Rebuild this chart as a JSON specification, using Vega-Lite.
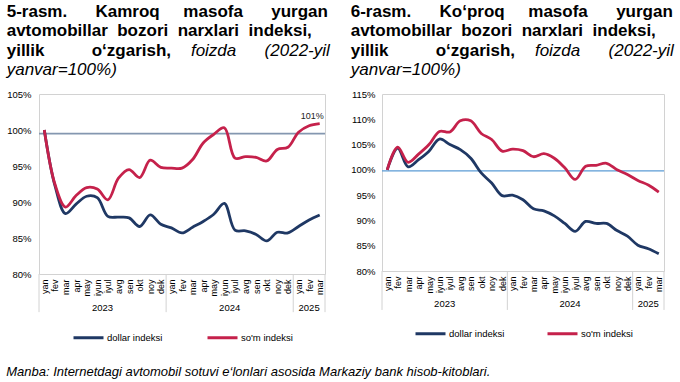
{
  "$schema": "https://vega.github.io/schema/vega-lite/v6.json",
  "padding": {"left": 6, "top": 2, "right": 4, "bottom": 4},
  "config": {
    "font": "Liberation Sans",
    "view": {"stroke": "#d2d2d2", "strokeWidth": 1},
    "axis": {"labelFont": "Liberation Sans", "labelColor": "#000", "grid": false, "ticks": false, "domain": false, "labelOverlap": false, "labelBound": false, "labelFlush": false},
    "axisX": {"labelAngle": 270, "labelFontSize": 9, "labelPadding": 5},
    "axisY": {"labelFontSize": 9.5},
    "legend": {"layout": {"bottom": {"anchor": "middle"}}}
  },
  "datasets": {
    "l": [
      {"i":0,"s":"dollar indeksi","v":100},{"i":1,"s":"dollar indeksi","v":92.3},{"i":2,"s":"dollar indeksi","v":88.4},{"i":3,"s":"dollar indeksi","v":89.7},{"i":4,"s":"dollar indeksi","v":90.8},{"i":5,"s":"dollar indeksi","v":90.6},{"i":6,"s":"dollar indeksi","v":88.0},{"i":7,"s":"dollar indeksi","v":87.9},{"i":8,"s":"dollar indeksi","v":87.8},{"i":9,"s":"dollar indeksi","v":86.6},{"i":10,"s":"dollar indeksi","v":88.2},{"i":11,"s":"dollar indeksi","v":86.9},{"i":12,"s":"dollar indeksi","v":86.4},{"i":13,"s":"dollar indeksi","v":85.7},{"i":14,"s":"dollar indeksi","v":86.5},{"i":15,"s":"dollar indeksi","v":87.3},{"i":16,"s":"dollar indeksi","v":88.3},{"i":17,"s":"dollar indeksi","v":89.8},{"i":18,"s":"dollar indeksi","v":86.1},{"i":19,"s":"dollar indeksi","v":86.0},{"i":20,"s":"dollar indeksi","v":85.5},{"i":21,"s":"dollar indeksi","v":84.6},{"i":22,"s":"dollar indeksi","v":85.8},{"i":23,"s":"dollar indeksi","v":85.7},{"i":24,"s":"dollar indeksi","v":86.6},{"i":25,"s":"dollar indeksi","v":87.5},{"i":26,"s":"dollar indeksi","v":88.2},
      {"i":0,"s":"so'm indeksi","v":100},{"i":1,"s":"so'm indeksi","v":92.5},{"i":2,"s":"so'm indeksi","v":89.3},{"i":3,"s":"so'm indeksi","v":90.9},{"i":4,"s":"so'm indeksi","v":92.0},{"i":5,"s":"so'm indeksi","v":91.8},{"i":6,"s":"so'm indeksi","v":90.3},{"i":7,"s":"so'm indeksi","v":93.3},{"i":8,"s":"so'm indeksi","v":94.5},{"i":9,"s":"so'm indeksi","v":93.4},{"i":10,"s":"so'm indeksi","v":95.8},{"i":11,"s":"so'm indeksi","v":94.8},{"i":12,"s":"so'm indeksi","v":94.7},{"i":13,"s":"so'm indeksi","v":94.7},{"i":14,"s":"so'm indeksi","v":95.9},{"i":15,"s":"so'm indeksi","v":98.2},{"i":16,"s":"so'm indeksi","v":99.4},{"i":17,"s":"so'm indeksi","v":100.3},{"i":18,"s":"so'm indeksi","v":96.1},{"i":19,"s":"so'm indeksi","v":96.3},{"i":20,"s":"so'm indeksi","v":96.2},{"i":21,"s":"so'm indeksi","v":95.7},{"i":22,"s":"so'm indeksi","v":97.3},{"i":23,"s":"so'm indeksi","v":97.6},{"i":24,"s":"so'm indeksi","v":99.7},{"i":25,"s":"so'm indeksi","v":100.6},{"i":26,"s":"so'm indeksi","v":100.9}
    ],
    "r": [
      {"i":0,"s":"dollar indeksi","v":100},{"i":1,"s":"dollar indeksi","v":104.3},{"i":2,"s":"dollar indeksi","v":100.6},{"i":3,"s":"dollar indeksi","v":102.0},{"i":4,"s":"dollar indeksi","v":103.7},{"i":5,"s":"dollar indeksi","v":106.1},{"i":6,"s":"dollar indeksi","v":105.0},{"i":7,"s":"dollar indeksi","v":104.0},{"i":8,"s":"dollar indeksi","v":102.3},{"i":9,"s":"dollar indeksi","v":99.4},{"i":10,"s":"dollar indeksi","v":97.4},{"i":11,"s":"dollar indeksi","v":94.9},{"i":12,"s":"dollar indeksi","v":95.0},{"i":13,"s":"dollar indeksi","v":94.1},{"i":14,"s":"dollar indeksi","v":92.3},{"i":15,"s":"dollar indeksi","v":91.9},{"i":16,"s":"dollar indeksi","v":90.9},{"i":17,"s":"dollar indeksi","v":89.4},{"i":18,"s":"dollar indeksi","v":87.85},{"i":19,"s":"dollar indeksi","v":89.8},{"i":20,"s":"dollar indeksi","v":89.4},{"i":21,"s":"dollar indeksi","v":89.4},{"i":22,"s":"dollar indeksi","v":88.0},{"i":23,"s":"dollar indeksi","v":86.9},{"i":24,"s":"dollar indeksi","v":85.1},{"i":25,"s":"dollar indeksi","v":84.4},{"i":26,"s":"dollar indeksi","v":83.4},
      {"i":0,"s":"so'm indeksi","v":100},{"i":1,"s":"so'm indeksi","v":104.5},{"i":2,"s":"so'm indeksi","v":101.5},{"i":3,"s":"so'm indeksi","v":103.1},{"i":4,"s":"so'm indeksi","v":105.0},{"i":5,"s":"so'm indeksi","v":107.6},{"i":6,"s":"so'm indeksi","v":107.5},{"i":7,"s":"so'm indeksi","v":109.7},{"i":8,"s":"so'm indeksi","v":109.7},{"i":9,"s":"so'm indeksi","v":107.2},{"i":10,"s":"so'm indeksi","v":106.0},{"i":11,"s":"so'm indeksi","v":103.7},{"i":12,"s":"so'm indeksi","v":104.1},{"i":13,"s":"so'm indeksi","v":103.8},{"i":14,"s":"so'm indeksi","v":102.6},{"i":15,"s":"so'm indeksi","v":103.2},{"i":16,"s":"so'm indeksi","v":102.3},{"i":17,"s":"so'm indeksi","v":100.4},{"i":18,"s":"so'm indeksi","v":98.1},{"i":19,"s":"so'm indeksi","v":100.7},{"i":20,"s":"so'm indeksi","v":100.9},{"i":21,"s":"so'm indeksi","v":101.3},{"i":22,"s":"so'm indeksi","v":100.0},{"i":23,"s":"so'm indeksi","v":99.1},{"i":24,"s":"so'm indeksi","v":97.9},{"i":25,"s":"so'm indeksi","v":97.0},{"i":26,"s":"so'm indeksi","v":95.6}
    ],
    "years": [{"x":5.5,"t":"2023"},{"x":17.5,"t":"2024"},{"x":25,"t":"2025"}],
    "seps": [{"x":-0.5},{"x":11.5},{"x":23.5},{"x":26.5}]
  },
  "title": {
    "text": "Manba: Internetdagi avtomobil sotuvi e‘lonlari asosida Markaziy bank hisob-kitoblari.",
    "orient": "bottom", "anchor": "start", "font": "Liberation Sans", "fontSize": 13, "fontStyle": "italic", "fontWeight": "normal", "color": "#000", "offset": 21
  },
  "bounds": "flush",
  "spacing": 57,
  "resolve": {"scale": {"color": "independent", "x": "independent", "y": "independent"}, "legend": {"color": "independent"}},
  "hconcat": [
    {
      "width": 286, "height": 180,
      "title": {
        "text": ["5-rasm.\u00a0\u00a0\u00a0\u00a0\u00a0\u00a0Kamroq\u00a0\u00a0\u00a0\u00a0\u00a0masofa\u00a0\u00a0\u00a0\u00a0\u00a0\u00a0yurgan", "avtomobillar\u00a0\u00a0bozori\u00a0\u00a0narxlari\u00a0\u00a0indeksi,", "yillik\u00a0\u00a0\u00a0\u00a0\u00a0\u00a0\u00a0\u00a0\u00a0\u00a0o‘zgarish,"],
        "subtitle": ["\u200b\u00a0\u00a0\u00a0\u00a0\u00a0\u00a0\u00a0\u00a0\u00a0\u00a0\u00a0\u00a0\u00a0\u00a0\u00a0\u00a0\u00a0\u00a0\u00a0\u00a0\u00a0\u00a0\u00a0\u00a0\u00a0\u00a0\u00a0\u00a0\u00a0\u00a0\u00a0\u00a0\u00a0\u00a0\u00a0\u00a0\u00a0\u00a0\u00a0foizda\u00a0\u00a0\u00a0\u00a0\u00a0\u00a0(2022-yil", "yanvar=100%)"],
        "anchor": "start", "font": "Liberation Sans", "fontSize": 17, "fontWeight": "bold", "lineHeight": 19.5, "color": "#000",
        "subtitleFont": "Liberation Sans", "subtitleFontSize": 17, "subtitleFontStyle": "italic", "subtitleFontWeight": "normal", "subtitleLineHeight": 19.5, "subtitleColor": "#000", "subtitlePadding": -17, "offset": 10
      },
      "layer": [
        {
          "data": {"values": [{"y": 99.5}]},
          "mark": {"type": "rule", "color": "#8497b0", "strokeWidth": 1.6},
          "encoding": {"y": {"field": "y", "type": "quantitative", "scale": {"domain": [80, 105], "nice": false, "zero": false}, "axis": {"title": null, "values": [80,85,90,95,100,105], "labelExpr": "datum.value + '%'", "labelPadding": 8}}}
        },
        {
          "data": {"name": "l"},
          "mark": {"type": "line", "interpolate": "catmull-rom", "strokeWidth": 2.8},
          "encoding": {
            "x": {"field": "i", "type": "quantitative", "scale": {"domain": [-0.5, 26.5], "nice": false, "zero": false},
                  "axis": {"title": null, "values": [0,1,2,3,4,5,6,7,8,9,10,11,12,13,14,15,16,17,18,19,20,21,22,23,24,25,26], "labelExpr": "['yan','fev','mar','apr','may','iyun','iyul','avg','sen','okt','noy','dek'][datum.value % 12]"}},
            "y": {"field": "v", "type": "quantitative", "scale": {"domain": [80, 105], "nice": false, "zero": false},
                  "axis": {"title": null, "values": [80,85,90,95,100,105], "labelExpr": "datum.value + '%'", "labelPadding": 8}},
            "color": {"field": "s", "type": "nominal", "scale": {"domain": ["dollar indeksi", "so'm indeksi"], "range": ["#1f3864", "#c5214b"]},
                      "legend": {"title": null, "orient": "bottom", "direction": "horizontal", "symbolType": "stroke", "symbolSize": 900, "symbolStrokeWidth": 3, "labelFontSize": 9.5, "labelColor": "#000", "labelOffset": 2, "columnPadding": 38, "offset": 24}}
          }
        },
        {
          "data": {"values": [{"i": 26, "v": 100.9, "t": "101%"}]},
          "mark": {"type": "text", "fontSize": 9, "align": "right", "baseline": "bottom", "dx": 4, "dy": -3, "color": "#222"},
          "encoding": {
            "x": {"field": "i", "type": "quantitative", "scale": {"domain": [-0.5, 26.5], "nice": false, "zero": false},
                  "axis": {"title": null, "values": [0,1,2,3,4,5,6,7,8,9,10,11,12,13,14,15,16,17,18,19,20,21,22,23,24,25,26], "labelExpr": "['yan','fev','mar','apr','may','iyun','iyul','avg','sen','okt','noy','dek'][datum.value % 12]"}},
            "y": {"field": "v", "type": "quantitative", "scale": {"domain": [80, 105], "nice": false, "zero": false},
                  "axis": {"title": null, "values": [80,85,90,95,100,105], "labelExpr": "datum.value + '%'", "labelPadding": 8}},
            "text": {"field": "t"}
          }
        },
        {
          "data": {"name": "seps"},
          "mark": {"type": "rule", "color": "#d2d2d2", "strokeWidth": 1},
          "encoding": {
            "x": {"field": "x", "type": "quantitative", "scale": {"domain": [-0.5, 26.5], "nice": false, "zero": false},
                  "axis": {"title": null, "values": [0,1,2,3,4,5,6,7,8,9,10,11,12,13,14,15,16,17,18,19,20,21,22,23,24,25,26], "labelExpr": "['yan','fev','mar','apr','may','iyun','iyul','avg','sen','okt','noy','dek'][datum.value % 12]"}},
            "y": {"datum": 80, "type": "quantitative", "scale": {"domain": [80, 105], "nice": false, "zero": false},
                  "axis": {"title": null, "values": [80,85,90,95,100,105], "labelExpr": "datum.value + '%'", "labelPadding": 8}},
            "y2": {"datum": 74.7}
          }
        },
        {
          "data": {"name": "years"},
          "mark": {"type": "text", "fontSize": 9.5, "align": "center", "baseline": "middle", "color": "#000"},
          "encoding": {
            "x": {"field": "x", "type": "quantitative", "scale": {"domain": [-0.5, 26.5], "nice": false, "zero": false},
                  "axis": {"title": null, "values": [0,1,2,3,4,5,6,7,8,9,10,11,12,13,14,15,16,17,18,19,20,21,22,23,24,25,26], "labelExpr": "['yan','fev','mar','apr','may','iyun','iyul','avg','sen','okt','noy','dek'][datum.value % 12]"}},
            "y": {"datum": 75.3, "type": "quantitative", "scale": {"domain": [80, 105], "nice": false, "zero": false},
                  "axis": {"title": null, "values": [80,85,90,95,100,105], "labelExpr": "datum.value + '%'", "labelPadding": 8}},
            "text": {"field": "t"}
          }
        }
      ]
    },
    {
      "width": 282, "height": 177,
      "title": {
        "text": ["6-rasm.\u00a0\u00a0\u00a0\u00a0\u00a0\u00a0Ko‘proq\u00a0\u00a0\u00a0\u00a0\u00a0masofa\u00a0\u00a0\u00a0\u00a0\u00a0\u00a0yurgan", "avtomobillar\u00a0\u00a0bozori\u00a0\u00a0narxlari\u00a0\u00a0indeksi,", "yillik\u00a0\u00a0\u00a0\u00a0\u00a0\u00a0\u00a0\u00a0\u00a0\u00a0o‘zgarish,"],
        "subtitle": ["\u200b\u00a0\u00a0\u00a0\u00a0\u00a0\u00a0\u00a0\u00a0\u00a0\u00a0\u00a0\u00a0\u00a0\u00a0\u00a0\u00a0\u00a0\u00a0\u00a0\u00a0\u00a0\u00a0\u00a0\u00a0\u00a0\u00a0\u00a0\u00a0\u00a0\u00a0\u00a0\u00a0\u00a0\u00a0\u00a0\u00a0\u00a0\u00a0\u00a0foizda\u00a0\u00a0\u00a0\u00a0\u00a0\u00a0(2022-yil", "yanvar=100%)"],
        "anchor": "start", "font": "Liberation Sans", "fontSize": 17, "fontWeight": "bold", "lineHeight": 19.5, "color": "#000",
        "subtitleFont": "Liberation Sans", "subtitleFontSize": 17, "subtitleFontStyle": "italic", "subtitleFontWeight": "normal", "subtitleLineHeight": 19.5, "subtitleColor": "#000", "subtitlePadding": -17, "offset": 10
      },
      "layer": [
        {
          "data": {"values": [{"y": 99.8}]},
          "mark": {"type": "rule", "color": "#5b9bd5", "strokeWidth": 1.2},
          "encoding": {"y": {"field": "y", "type": "quantitative", "scale": {"domain": [80, 115], "nice": false, "zero": false}, "axis": {"title": null, "values": [80,85,90,95,100,105,110,115], "labelExpr": "datum.value + '%'", "labelPadding": 7}}}
        },
        {
          "data": {"name": "r"},
          "mark": {"type": "line", "interpolate": "catmull-rom", "strokeWidth": 2.8},
          "encoding": {
            "x": {"field": "i", "type": "quantitative", "scale": {"domain": [-0.5, 26.5], "nice": false, "zero": false},
                  "axis": {"title": null, "values": [0,1,2,3,4,5,6,7,8,9,10,11,12,13,14,15,16,17,18,19,20,21,22,23,24,25,26], "labelExpr": "['yan','fev','mar','apr','may','iyun','iyul','avg','sen','okt','noy','dek'][datum.value % 12]"}},
            "y": {"field": "v", "type": "quantitative", "scale": {"domain": [80, 115], "nice": false, "zero": false},
                  "axis": {"title": null, "values": [80,85,90,95,100,105,110,115], "labelExpr": "datum.value + '%'", "labelPadding": 7}},
            "color": {"field": "s", "type": "nominal", "scale": {"domain": ["dollar indeksi", "so'm indeksi"], "range": ["#1f3864", "#c5214b"]},
                      "legend": {"title": null, "orient": "bottom", "direction": "horizontal", "symbolType": "stroke", "symbolSize": 900, "symbolStrokeWidth": 3, "labelFontSize": 9.5, "labelColor": "#000", "labelOffset": 2, "columnPadding": 36, "offset": 23}}
          }
        },
        {
          "data": {"name": "seps"},
          "mark": {"type": "rule", "color": "#d2d2d2", "strokeWidth": 1},
          "encoding": {
            "x": {"field": "x", "type": "quantitative", "scale": {"domain": [-0.5, 26.5], "nice": false, "zero": false},
                  "axis": {"title": null, "values": [0,1,2,3,4,5,6,7,8,9,10,11,12,13,14,15,16,17,18,19,20,21,22,23,24,25,26], "labelExpr": "['yan','fev','mar','apr','may','iyun','iyul','avg','sen','okt','noy','dek'][datum.value % 12]"}},
            "y": {"datum": 80, "type": "quantitative", "scale": {"domain": [80, 115], "nice": false, "zero": false},
                  "axis": {"title": null, "values": [80,85,90,95,100,105,110,115], "labelExpr": "datum.value + '%'", "labelPadding": 7}},
            "y2": {"datum": 72.3}
          }
        },
        {
          "data": {"name": "years"},
          "mark": {"type": "text", "fontSize": 9.5, "align": "center", "baseline": "middle", "color": "#000"},
          "encoding": {
            "x": {"field": "x", "type": "quantitative", "scale": {"domain": [-0.5, 26.5], "nice": false, "zero": false},
                  "axis": {"title": null, "values": [0,1,2,3,4,5,6,7,8,9,10,11,12,13,14,15,16,17,18,19,20,21,22,23,24,25,26], "labelExpr": "['yan','fev','mar','apr','may','iyun','iyul','avg','sen','okt','noy','dek'][datum.value % 12]"}},
            "y": {"datum": 73.4, "type": "quantitative", "scale": {"domain": [80, 115], "nice": false, "zero": false},
                  "axis": {"title": null, "values": [80,85,90,95,100,105,110,115], "labelExpr": "datum.value + '%'", "labelPadding": 7}},
            "text": {"field": "t"}
          }
        }
      ]
    }
  ]
}
